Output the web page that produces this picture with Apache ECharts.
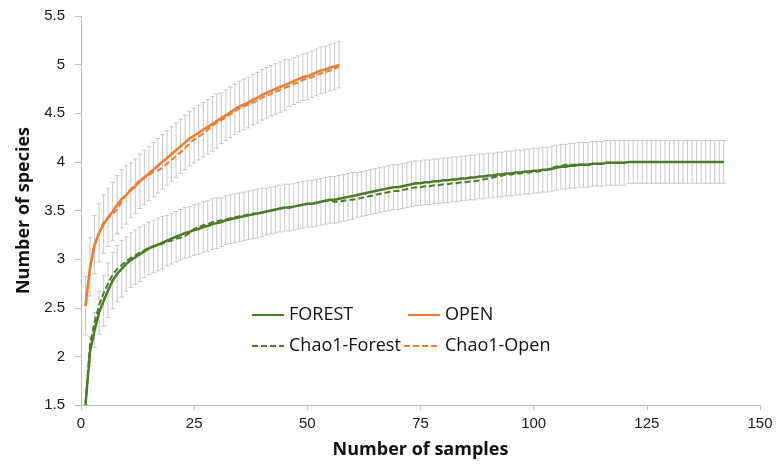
<!DOCTYPE html>
<html>
<head>
<meta charset="utf-8">
<script src="https://cdn.jsdelivr.net/npm/echarts@6/dist/echarts.min.js"></script>
<style>html,body{margin:0;padding:0;background:#fff}#c{width:776px;height:464px}</style>
</head>
<body>
<div id="c"></div>
<script>
// Number of species, FOREST (samples 1..142)
const forest = [1.50,2.05,2.27,2.45,2.57,2.68,2.78,2.85,2.90,2.95,
 2.99,3.02,3.05,3.08,3.11,3.13,3.15,3.17,3.19,3.21,
 3.23,3.25,3.27,3.28,3.30,3.31,3.33,3.34,3.36,3.37,
 3.38,3.40,3.41,3.42,3.43,3.44,3.45,3.46,3.47,3.48,
 3.49,3.50,3.51,3.52,3.53,3.53,3.54,3.55,3.56,3.57,
 3.57,3.58,3.59,3.60,3.61,3.61,3.62,3.63,3.64,3.65,
 3.66,3.67,3.68,3.69,3.70,3.71,3.72,3.73,3.74,3.74,
 3.75,3.76,3.77,3.78,3.78,3.79,3.79,3.80,3.80,3.81,
 3.81,3.82,3.82,3.83,3.83,3.84,3.84,3.85,3.85,3.86,
 3.86,3.87,3.87,3.88,3.88,3.89,3.89,3.90,3.90,3.91,
 3.91,3.92,3.92,3.93,3.94,3.95,3.95,3.96,3.96,3.97,
 3.97,3.97,3.98,3.98,3.98,3.99,3.99,3.99,3.99,3.99,
 4.00,4.00,4.00,4.00,4.00,4.00,4.00,4.00,4.00,4.00,
 4.00,4.00,4.00,4.00,4.00,4.00,4.00,4.00,4.00,4.00,
 4.00,4.00];
const chaoForest = [1.52,2.12,2.35,2.53,2.65,2.75,2.84,2.90,2.94,2.98,
 3.01,3.04,3.07,3.09,3.12,3.13,3.14,3.16,3.18,3.19,
 3.21,3.22,3.24,3.27,3.31,3.33,3.35,3.36,3.38,3.39,
 3.40,3.41,3.42,3.43,3.44,3.45,3.46,3.47,3.47,3.48,
 3.49,3.50,3.51,3.52,3.53,3.53,3.54,3.55,3.56,3.57,
 3.57,3.58,3.59,3.60,3.60,3.59,3.59,3.60,3.61,3.61,
 3.62,3.63,3.64,3.65,3.66,3.67,3.68,3.69,3.70,3.70,
 3.71,3.72,3.73,3.74,3.74,3.75,3.75,3.76,3.76,3.77,
 3.77,3.78,3.78,3.79,3.79,3.80,3.80,3.81,3.82,3.83,
 3.84,3.85,3.86,3.87,3.87,3.88,3.88,3.89,3.89,3.90,
 3.90,3.91,3.92,3.94,3.95,3.96,3.97,3.97,3.97,3.97,
 3.97,3.97,3.98,3.98,3.98,3.99,3.99,3.99,3.99,3.99,
 4.00,4.00,4.00,4.00,4.00,4.00,4.00,4.00,4.00,4.00,
 4.00,4.00,4.00,4.00,4.00,4.00,4.00,4.00,4.00,4.00,
 4.00,4.00];
const forestErr = [0.00,0.15,0.18,0.22,0.26,0.28,0.29,0.29,0.29,0.28,
 0.28,0.28,0.28,0.27,0.27,0.27,0.27,0.27,0.26,0.26,
 0.26,0.26,0.26,0.26,0.26,0.26,0.26,0.26,0.26,0.26,
 0.25,0.25,0.25,0.25,0.25,0.25,0.25,0.25,0.25,0.25,
 0.24,0.24,0.24,0.24,0.24,0.24,0.24,0.24,0.24,0.24,
 0.24,0.24,0.24,0.24,0.24,0.24,0.24,0.24,0.24,0.24,
 0.23,0.23,0.23,0.23,0.23,0.23,0.23,0.23,0.23,0.23,
 0.23,0.23,0.23,0.23,0.23,0.23,0.23,0.23,0.23,0.23,
 0.23,0.23,0.23,0.23,0.23,0.23,0.23,0.23,0.23,0.23,
 0.23,0.23,0.23,0.23,0.23,0.23,0.23,0.23,0.23,0.23,
 0.23,0.23,0.23,0.23,0.23,0.23,0.23,0.23,0.23,0.23,
 0.23,0.23,0.23,0.23,0.23,0.23,0.23,0.23,0.23,0.23,
 0.22,0.22,0.22,0.22,0.22,0.22,0.22,0.22,0.22,0.22,
 0.22,0.22,0.22,0.22,0.22,0.22,0.22,0.22,0.22,0.22,
 0.22,0.22];
// OPEN (samples 1..57)
const open = [2.52,2.92,3.15,3.27,3.36,3.43,3.49,3.56,3.62,3.66,
 3.71,3.75,3.80,3.84,3.88,3.92,3.96,4.00,4.04,4.08,
 4.12,4.16,4.20,4.24,4.27,4.30,4.33,4.36,4.39,4.42,
 4.45,4.48,4.51,4.54,4.57,4.59,4.61,4.64,4.66,4.69,
 4.71,4.73,4.75,4.77,4.79,4.81,4.83,4.85,4.87,4.88,
 4.90,4.92,4.94,4.95,4.97,4.98,5.00];
const chaoOpen = [2.52,2.90,3.13,3.27,3.38,3.42,3.47,3.51,3.60,3.66,
 3.72,3.76,3.82,3.84,3.86,3.90,3.91,3.94,3.98,4.02,
 4.06,4.10,4.14,4.19,4.23,4.26,4.29,4.33,4.37,4.40,
 4.43,4.46,4.49,4.52,4.55,4.57,4.59,4.61,4.63,4.66,
 4.68,4.70,4.72,4.74,4.76,4.78,4.80,4.82,4.84,4.86,
 4.87,4.89,4.91,4.92,4.94,4.96,4.98];
const openErr = [0.30,0.30,0.30,0.30,0.30,0.30,0.30,0.30,0.30,0.30,
 0.28,0.28,0.28,0.28,0.28,0.28,0.28,0.28,0.28,0.28,
 0.28,0.28,0.28,0.28,0.28,0.28,0.28,0.28,0.28,0.28,
 0.26,0.26,0.26,0.26,0.26,0.26,0.26,0.26,0.26,0.26,
 0.26,0.26,0.26,0.26,0.26,
 0.24,0.24,0.24,0.24,0.24,0.24,0.24,0.24,0.24,0.24,0.24,0.24];
const xTicks = [0,25,50,75,100,125,150];
const yTicks = [1.5,2,2.5,3,3.5,4,4.5,5,5.5];

const GREEN = '#4f7b28', ORANGE = '#ed7d31', BAR = '#c8c8c8';
const pts = arr => arr.map((v, i) => [i + 1, v]);
const errData = (arr, err) => arr.map((v, i) => [i + 1, v - err[i], v + err[i]]);

function renderErr(params, api) {
  const x = api.value(0);
  const lo = api.coord([x, api.value(1)]);
  const hi = api.coord([x, api.value(2)]);
  const w = 2.2;
  const st = { stroke: BAR, lineWidth: 1 };
  return { type: 'group', children: [
    { type: 'line', shape: { x1: lo[0], y1: lo[1], x2: hi[0], y2: hi[1] }, style: st },
    { type: 'line', shape: { x1: hi[0] - w, y1: hi[1], x2: hi[0] + w, y2: hi[1] }, style: st },
    { type: 'line', shape: { x1: lo[0] - w, y1: lo[1], x2: lo[0] + w, y2: lo[1] }, style: st }
  ]};
}

const legendText = { fontFamily: 'Open Sans', fontSize: 18, color: '#111' };
function lg(name, left, top, w) {
  return { data: [name], left: left, top: top, itemWidth: w, itemHeight: 10, itemGap: 0,
    padding: 0, textStyle: legendText, selectedMode: false, itemStyle: { opacity: 0 } };
}

const chart = echarts.init(document.getElementById('c'), null, { renderer: 'canvas' });
chart.setOption({
  animation: false,
  backgroundColor: '#fff',
  grid: { left: 81, right: 16, top: 16, bottom: 56 },
  legend: [
    lg('FOREST', 251, 306, 32),
    lg('OPEN', 407, 306, 32),
    lg('Chao1-Forest', 251, 337, 32),
    lg('Chao1-Open', 403, 337, 36)
  ],
  xAxis: {
    type: 'value', min: 0, max: 150, interval: 25,
    name: 'Number of samples', nameLocation: 'middle', nameGap: 36,
    nameTextStyle: { fontFamily: 'Open Sans', fontWeight: 'bold', fontSize: 18, color: '#111' },
    axisLine: { show: true, lineStyle: { color: '#bfbfbf', width: 1 } },
    axisTick: { show: true, length: 5, lineStyle: { color: '#bfbfbf' } },
    axisLabel: { fontFamily: 'Liberation Sans', fontSize: 15, color: '#1a1a1a', margin: 11,
      formatter: v => xTicks.includes(v) ? String(v) : '' },
    splitLine: { show: false }
  },
  yAxis: {
    type: 'value', min: 1.5, max: 5.5, interval: 0.5,
    name: 'Number of species', nameLocation: 'middle', nameGap: 46,
    nameTextStyle: { fontFamily: 'Open Sans', fontWeight: 'bold', fontSize: 18, color: '#111' },
    axisLine: { show: true, lineStyle: { color: '#bfbfbf', width: 1 } },
    axisTick: { show: true, length: 6, lineStyle: { color: '#bfbfbf' } },
    axisLabel: { fontFamily: 'Liberation Sans', fontSize: 15, color: '#1a1a1a', margin: 16,
      formatter: v => yTicks.includes(v) ? String(v) : '' },
    splitLine: { show: false }
  },
  series: [
    { type: 'custom', name: 'errF', renderItem: renderErr, data: errData(forest, forestErr), z: 1, silent: true, clip: true },
    { type: 'custom', name: 'errO', renderItem: renderErr, data: errData(open, openErr), z: 1, silent: true, clip: true },
    { type: 'line', name: 'FOREST', data: pts(forest), symbol: 'none', z: 3,
      lineStyle: { color: GREEN, width: 2.5 }, itemStyle: { color: GREEN } },
    { type: 'line', name: 'OPEN', data: pts(open), symbol: 'none', z: 3,
      lineStyle: { color: ORANGE, width: 2.5 }, itemStyle: { color: ORANGE } },
    { type: 'line', name: 'Chao1-Forest', data: pts(chaoForest), symbol: 'none', z: 4,
      lineStyle: { color: GREEN, width: 2, type: [6, 3] }, itemStyle: { color: GREEN } },
    { type: 'line', name: 'Chao1-Open', data: pts(chaoOpen), symbol: 'none', z: 4,
      lineStyle: { color: ORANGE, width: 2, type: [6, 3] }, itemStyle: { color: ORANGE } }
  ]
});
</script>
</body>
</html>
